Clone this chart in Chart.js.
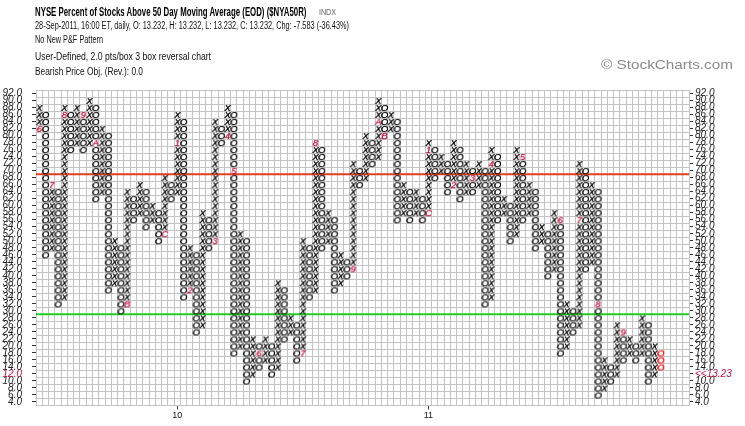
<!DOCTYPE html>
<html>
<head>
<meta charset="utf-8">
<script src="https://cdn.jsdelivr.net/npm/chart.js@4.4.0/dist/chart.umd.min.js"></script>
<style>
  html, body { margin: 0; padding: 0; background: #fff; }
  #wrap { position: relative; width: 745px; height: 426px; overflow: hidden; font-family: "Liberation Sans", Arial, sans-serif; }
  #wrap canvas { position: absolute; left: 0; top: 0; }
  .hdr { position: absolute; left: 35px; white-space: nowrap; color: #111; line-height: 1; transform-origin: 0 50%; }
</style>
</head>
<body>
<div id="wrap">
  <canvas id="pnf" width="745" height="426"></canvas>
  <div class="hdr" id="title" style="top:5px;font-size:13px;font-weight:bold;color:#000">NYSE Percent of Stocks Above 50 Day Moving Average (EOD) ($NYA50R)</div>
  <div class="hdr" id="exch" style="top:8px;font-size:9px;color:#666">INDX</div>
  <div class="hdr" id="quote" style="top:21px;font-size:10px">28-Sep-2011, 16:00 ET, daily, O: 13.232, H: 13.232, L: 13.232, C: 13.232, Chg: -7.583 (-36.43%)</div>
  <div class="hdr" id="pattern" style="top:35px;font-size:10px">No New P&amp;F Pattern</div>
  <div class="hdr" id="boxinfo" style="top:52px;font-size:10px">User-Defined, 2.0 pts/box 3 box reversal chart</div>
  <div class="hdr" id="target" style="top:67px;font-size:10px">Bearish Price Obj. (Rev.): 0.0</div>
  <div class="hdr" id="brand" style="top:58px;left:601px;font-size:13px;color:#8a8a8a">&copy; StockCharts.com</div>
</div>
<script>
"use strict";
(function () {
    // point & figure columns, 2.0 pts per box; first column is X, then they alternate
    var colLow  = [82, 46, 48, 32, 34, 76, 78, 76, 78, 62,
                   64, 36, 38, 30, 32, 56, 58, 54, 56, 50,
                   52, 62, 64, 34, 36, 24, 26, 48, 50, 78,
                   80, 18, 20, 10, 12, 14, 16, 12, 14, 22,
                   24, 16, 18, 34, 36, 48, 50, 36, 38, 40,
                   42, 66, 68, 72, 74, 80, 82, 56, 58, 56,
                   58, 56, 58, 68, 70, 64, 66, 62, 64, 64,
                   66, 32, 34, 56, 58, 50, 52, 56, 58, 48,
                   50, 40, 42, 18, 20, 24, 26, 42, 44, 6,
                   8, 10, 12, 16, 18, 16, 18, 10, 12, 14];
    var colHigh = [88, 86, 66, 64, 88, 86, 88, 86, 90, 88,
                   82, 80, 50, 48, 64, 62, 66, 64, 60, 58,
                   68, 66, 86, 84, 48, 46, 58, 56, 84, 82,
                   88, 86, 52, 50, 22, 20, 22, 20, 38, 36,
                   28, 26, 50, 48, 78, 76, 58, 56, 46, 44,
                   72, 70, 80, 78, 90, 88, 86, 84, 66, 64,
                   64, 62, 78, 76, 74, 72, 78, 76, 72, 70,
                   72, 70, 76, 74, 62, 60, 76, 74, 66, 64,
                   54, 52, 58, 56, 32, 30, 72, 70, 66, 64,
                   16, 14, 26, 24, 22, 20, 28, 26, 20, 18];

    // month markers (1-9, A, B, C) that replace a box
    var markerCol  = [0, 2, 4, 7, 9, 14, 20, 22, 24, 28, 30, 31, 35, 42,
                      44, 50, 54, 55, 62, 62, 66, 69, 72, 77, 83, 86, 89, 93];
    var markerBox  = [82, 66, 86, 86, 78, 32, 52, 78, 36, 50, 80, 70, 18, 18,
                      78, 42, 84, 80, 58, 76, 66, 68, 72, 74, 56, 56, 32, 24];
    var markerText = ["6", "7", "8", "9", "A", "B", "C", "1", "2", "3", "4", "5", "6", "7",
                      "8", "9", "A", "B", "C", "1", "2", "3", "4", "5", "6", "7", "8", "9"];

    var yearCols   = [22, 62];
    var yearLabels = ["10", "11"];

    var upperLine = 69;   // drawn on the box edge under 70
    var lowerLine = 29;   // drawn on the box edge under 30
    var lastPrice = 13.23;
    var boxSize = 2;
    var gridCols = 104;
    var yMin = 3, yMax = 93;

    var FONT = '"Liberation Sans", Arial, sans-serif';
    var GRID = "#c4c4c4";
    var MONTH_RED = "#c8103c";

    // header text: squeeze to the widths seen in the picture
    function fit(id, width) {
        var el = document.getElementById(id);
        var cs = getComputedStyle(el);
        var m = document.createElement("canvas").getContext("2d");
        m.font = cs.fontWeight + " " + cs.fontSize + " " + FONT;
        var s = width / m.measureText(el.textContent).width;
        el.style.transform = "scaleX(" + s + ")";
        return parseFloat(cs.left) + width;
    }
    var titleEnd = fit("title", 272);
    document.getElementById("exch").style.left = (titleEnd + 12) + "px";
    fit("exch", 17);
    fit("quote", 314);
    fit("pattern", 68);
    fit("boxinfo", 176);
    fit("target", 108);
    fit("brand", 132);

    function glyph(ch, color) {
        var c = document.createElement("canvas");
        c.width = 9;
        c.height = 9;
        var g = c.getContext("2d");
        g.font = "italic 9.5px " + FONT;
        g.fillStyle = color;
        g.textAlign = "center";
        g.textBaseline = "middle";
        g.fillText(ch, 4.35, 5);
        g.fillText(ch, 4.65, 5);
        return c;
    }
    var xGlyph = glyph("X", "#000");
    var oGlyph = glyph("O", "#000");
    var liveGlyph = glyph("O", "#ff0000");
    var markerGlyphs = markerText.map(function (t) { return glyph(t, MONTH_RED); });

    function isMarker(c, v) {
        for (var i = 0; i < markerCol.length; i++) {
            if (markerCol[i] === c && markerBox[i] === v) return true;
        }
        return false;
    }

    var xs = [], os = [], live = [];
    var lastCol = colLow.length - 1;
    for (var c = 0; c < colLow.length; c++) {
        for (var v = colLow[c]; v <= colHigh[c]; v += boxSize) {
            if (isMarker(c, v)) continue;
            var p = { x: c + 0.5, y: v };
            if (c === lastCol) live.push(p);
            else if (c % 2 === 0) xs.push(p);
            else os.push(p);
        }
    }
    var marks = markerCol.map(function (c, i) { return { x: c + 0.5, y: markerBox[i] }; });
    var liveBox = Math.floor(lastPrice / boxSize) * boxSize;

    function yAxis(pos, width, onArea) {
        return {
            type: "linear",
            position: pos,
            min: yMin,
            max: yMax,
            afterBuildTicks: function (s) {
                var t = [];
                for (var v = yMin; v <= yMax; v++) t.push({ value: v });
                s.ticks = t;
            },
            afterFit: function (s) { s.width = width; },
            grid: {
                drawOnChartArea: onArea,
                lineWidth: 1,
                tickLength: 4,
                color: function (ctx) { return ctx.tick && ctx.tick.value % 2 === 1 ? GRID : "rgba(0,0,0,0)"; },
                tickColor: function (ctx) { return ctx.tick && ctx.tick.value % 2 === 0 ? "#333" : "rgba(0,0,0,0)"; }
            },
            border: { color: GRID },
            ticks: {
                autoSkip: false,
                padding: pos === "left" ? 10 : 2,
                font: { family: FONT, size: 10, style: "italic" },
                color: function (ctx) { return ctx.tick && ctx.tick.value === liveBox ? MONTH_RED : "#222"; },
                callback: function (v) {
                    if (v % 2 !== 0) return "";
                    if (pos === "right" && v === liveBox) return "<<" + lastPrice.toFixed(2);
                    return v.toFixed(1);
                }
            }
        };
    }

    var ctx = document.getElementById("pnf").getContext("2d");
    new Chart(ctx, {
        type: "scatter",
        data: {
            datasets: [
                { data: xs, pointStyle: xGlyph, pointRadius: 3, order: 1 },
                { data: os, pointStyle: oGlyph, pointRadius: 3, order: 1 },
                { data: live, pointStyle: liveGlyph, pointRadius: 3, order: 1 },
                { data: marks, pointStyle: function (c) { return markerGlyphs[c.dataIndex]; }, pointRadius: 3, order: 1 },
                { type: "line", data: [{ x: 0, y: upperLine }, { x: gridCols, y: upperLine }],
                  borderColor: "#e2401c", borderWidth: 2, pointRadius: 0, order: 2 },
                { type: "line", data: [{ x: 0, y: lowerLine }, { x: gridCols, y: lowerLine }],
                  borderColor: "#22cc22", borderWidth: 2, pointRadius: 0, order: 2 }
            ]
        },
        options: {
            responsive: false,
            animation: false,
            events: [],
            layout: { padding: { top: 90, left: 0, right: 0, bottom: 0 } },
            plugins: { legend: { display: false }, tooltip: { enabled: false } },
            scales: {
                x: {
                    type: "linear",
                    min: 0,
                    max: gridCols,
                    afterBuildTicks: function (s) {
                        var t = [];
                        for (var i = 0; i <= gridCols; i++) t.push({ value: i });
                        yearCols.forEach(function (c) { t.push({ value: c + 0.5 }); });
                        t.sort(function (a, b) { return a.value - b.value; });
                        s.ticks = t;
                    },
                    afterFit: function (s) { s.height = 20.5; },
                    grid: {
                        lineWidth: 1,
                        tickLength: 4,
                        color: function (c) { return c.tick && Number.isInteger(c.tick.value) ? GRID : "rgba(0,0,0,0)"; },
                        tickColor: function (c) { return c.tick && !Number.isInteger(c.tick.value) ? "#444" : "rgba(0,0,0,0)"; }
                    },
                    border: { color: GRID },
                    ticks: {
                        autoSkip: false,
                        maxRotation: 0,
                        padding: 1,
                        font: { family: FONT, size: 9 },
                        color: "#111",
                        callback: function (v) {
                            var i = yearCols.indexOf(v - 0.5);
                            return i >= 0 ? yearLabels[i] : "";
                        }
                    }
                },
                y: yAxis("left", 36, true),
                y2: yAxis("right", 56, false)
            }
        }
    });
})();
</script>
</body>
</html>
